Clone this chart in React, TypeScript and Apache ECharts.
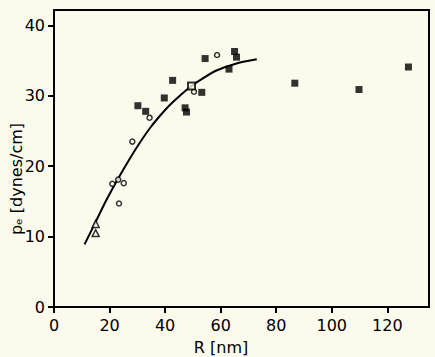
import React, { useEffect, useRef } from "react";
import * as echarts from "echarts";

const xTicks = [0, 20, 40, 60, 80, 100, 120];
const yTicks = [0, 10, 20, 30, 40];

const filledSquares: number[][] = [
  [30.2, 28.6], [33, 27.8], [39.7, 29.7], [42.7, 32.2], [47.2, 28.3], [47.7, 27.7],
  [53.2, 30.5], [54.4, 35.3], [63, 33.8], [65, 36.3], [65.7, 35.5],
  [86.7, 31.8], [109.8, 30.9], [127.6, 34.1],
];
const openCircles: number[][] = [
  [21, 17.5], [23.1, 18.1], [25.1, 17.6], [23.4, 14.7], [28.2, 23.5],
  [34.4, 26.9], [50.4, 30.6], [58.7, 35.8],
];
const openTriangles: number[][] = [[15, 11.8], [15, 10.5]];
const openSquares: number[][] = [[49.5, 31.4]];
const fitCurve: number[][] = [
  [11, 8.9], [15, 12.1], [19, 15.3], [23, 18.2], [27, 20.9], [31, 23.4], [34.5, 25.4],
  [38, 27.1], [41.7, 28.7], [45.5, 30.1], [49.5, 31.4], [54, 32.6], [58.5, 33.6],
  [65.7, 34.6], [73, 35.2],
];

const font = "DejaVu Sans";

export default function App() {
  const ref = useRef<HTMLDivElement>(null);
  useEffect(() => {
    const chart = echarts.init(ref.current!, null, { renderer: "svg" });
    chart.setOption({
      animation: false,
      backgroundColor: "#fcfaec",
      grid: { left: 54, top: 10, right: 6, bottom: 50, show: true, borderColor: "#000", borderWidth: 2 },
      xAxis: {
        type: "value",
        min: 0,
        max: 135,
        axisLine: { show: true, lineStyle: { color: "#000", width: 2 } },
        axisTick: { show: true, length: 6, lineStyle: { color: "#000", width: 2 }, customValues: xTicks },
        axisLabel: { color: "#000", fontSize: 16, fontFamily: font, margin: 10, customValues: xTicks },
        splitLine: { show: false },
      },
      yAxis: {
        type: "value",
        min: 0,
        max: 42.2,
        axisLine: { show: true, lineStyle: { color: "#000", width: 2 } },
        axisTick: { show: true, length: 6, lineStyle: { color: "#000", width: 2 }, customValues: yTicks },
        axisLabel: { color: "#000", fontSize: 16, fontFamily: font, margin: 9, customValues: yTicks },
        splitLine: { show: false },
      },
      graphic: [
        {
          type: "text",
          x: 221,
          y: 347,
          style: { text: "R [nm]", fontSize: 16, fontFamily: font, fill: "#000", align: "center", verticalAlign: "middle" },
        },
        {
          type: "text",
          x: 16,
          y: 179,
          rotation: Math.PI / 2,
          style: { text: "pₑ [dynes/cm]", fontSize: 16, fontFamily: font, fill: "#000", align: "center", verticalAlign: "middle" },
        },
      ],
      series: [
        {
          type: "line",
          data: fitCurve,
          smooth: 0.3,
          showSymbol: false,
          lineStyle: { color: "#000", width: 2 },
          z: 2,
        },
        {
          type: "scatter",
          data: filledSquares,
          symbol: "rect",
          symbolSize: 7,
          itemStyle: { color: "#000" },
          z: 3,
        },
        {
          type: "scatter",
          data: openCircles,
          symbol: "circle",
          symbolSize: 5,
          itemStyle: { color: "#fcfaec", borderColor: "#000", borderWidth: 1.5 },
          z: 3,
        },
        {
          type: "scatter",
          data: openTriangles,
          symbol: "triangle",
          symbolSize: 7,
          itemStyle: { color: "#fcfaec", borderColor: "#000", borderWidth: 1.5 },
          z: 3,
        },
        {
          type: "scatter",
          data: openSquares,
          symbol: "rect",
          symbolSize: 7,
          itemStyle: { color: "#fcfaec", borderColor: "#000", borderWidth: 2 },
          z: 3,
        },
      ],
    });
    return () => chart.dispose();
  }, []);
  return <div ref={ref} style={{ width: 435, height: 357, position: "absolute", left: 0, top: 0 }} />;
}
